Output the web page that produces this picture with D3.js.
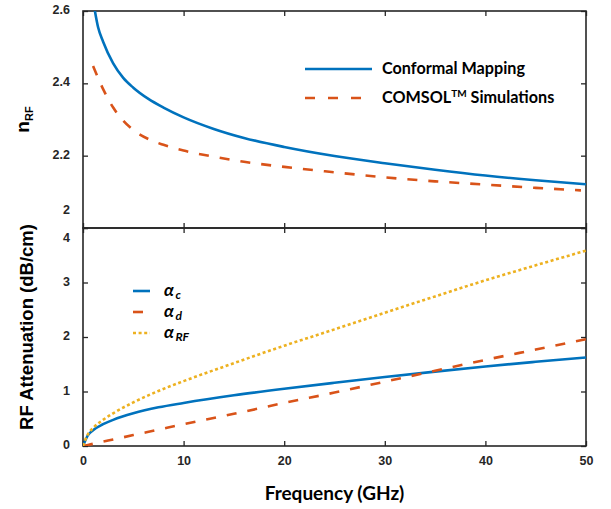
<!DOCTYPE html>
<html>
<head>
<meta charset="utf-8">
<script src="https://cdn.jsdelivr.net/npm/d3@7"></script>
<style>
  body { margin: 0; background: #fff; }
  svg { display: block; }
</style>
</head>
<body>
<svg id="chart"></svg>
<script>
// values
const nFreq = [1, 1.5, 2, 3, 4, 5, 6.5, 8, 10, 13, 16, 20, 25, 30, 35, 40, 45, 50];
const nConformal = [2.63, 2.555, 2.515, 2.455, 2.415, 2.388, 2.357, 2.333, 2.306, 2.274, 2.249, 2.224, 2.199, 2.179, 2.161, 2.145, 2.132, 2.121];
const comsolFreq = [1, 2, 3, 4, 5, 6.5, 8, 10, 13, 16, 20, 25, 30, 35, 40, 45, 49.5];
const nComsol = [2.448, 2.384, 2.333, 2.297, 2.271, 2.246, 2.23, 2.214, 2.197, 2.183, 2.169, 2.154, 2.14, 2.129, 2.12, 2.111, 2.104];

const aFreq = [0, 0.5, 1, 2, 3, 5, 7.5, 10, 15, 20, 25, 30, 35, 40, 45, 50];
const alphaC = [0, 0.2, 0.29, 0.4, 0.48, 0.6, 0.71, 0.79, 0.93, 1.05, 1.16, 1.265, 1.365, 1.46, 1.545, 1.625];
const alphaD = [0, 0.02, 0.04, 0.08, 0.12, 0.2, 0.3, 0.4, 0.59, 0.79, 0.98, 1.18, 1.38, 1.58, 1.77, 1.96];
const alphaRF = [0, 0.22, 0.33, 0.48, 0.6, 0.8, 1.01, 1.19, 1.52, 1.84, 2.14, 2.445, 2.745, 3.04, 3.315, 3.585];

const xTicks = [0, 10, 20, 30, 40, 50];
const nTicks = [2, 2.2, 2.4, 2.6];
const aTicks = [0, 1, 2, 3, 4];

const width = 611, height = 509;
const left = 83, right = 586;
const top1 = 11, bot1 = 228, top2 = 228, bot2 = 446;
const ink = '#262626';
const blue = '#0072BD', orange = '#D95319', yellow = '#EDB120';

const svg = d3.select('#chart').attr('width', width).attr('height', height);

const x = d3.scaleLinear().domain([0, 50]).range([left, right]);
const yN = d3.scaleLinear().domain([2, 2.6]).range([bot1, top1]);
const yA = d3.scaleLinear().domain([0, 4]).range([bot2, top2]);

// clip paths
const defs = svg.append('defs');
defs.append('clipPath').attr('id', 'clip1').append('rect')
  .attr('x', left).attr('y', top1).attr('width', right - left).attr('height', bot1 - top1);
defs.append('clipPath').attr('id', 'clip2').append('rect')
  .attr('x', left).attr('y', top2).attr('width', right - left).attr('height', bot2 - top2);

const tickFont = g => g.selectAll('text')
  .attr('font-family', '"Liberation Sans", Arial, sans-serif')
  .attr('font-weight', 'bold').attr('font-size', 12.5).attr('fill', ink);

const styleAxis = g => {
  g.select('.domain').remove();
  g.selectAll('line').attr('stroke', ink).attr('stroke-width', 1.3);
};

// top panel axes
svg.append('g').attr('transform', `translate(${left},0)`)
  .call(d3.axisLeft(yN).tickValues(nTicks).tickFormat(d3.format('~g')).tickSizeInner(-5).tickSizeOuter(0).tickPadding(13))
  .call(styleAxis).call(tickFont)
  .selectAll('.tick text').attr('dy', d => d === 2 ? '-1.2em' : '0.2em');
svg.append('g').attr('transform', `translate(${right},0)`)
  .call(d3.axisRight(yN).tickValues(nTicks).tickFormat('').tickSizeInner(-5).tickSizeOuter(0))
  .call(styleAxis);
svg.append('g').attr('transform', `translate(0,${top1})`)
  .call(d3.axisTop(x).tickValues(xTicks).tickFormat('').tickSizeInner(-5).tickSizeOuter(0))
  .call(styleAxis);
svg.append('g').attr('transform', `translate(0,${bot1})`)
  .call(d3.axisBottom(x).tickValues(xTicks).tickFormat('').tickSizeInner(-5).tickSizeOuter(0))
  .call(styleAxis);

// bottom panel axes
svg.append('g').attr('transform', `translate(${left},0)`)
  .call(d3.axisLeft(yA).tickValues(aTicks).tickFormat(d3.format('d')).tickSizeInner(-5).tickSizeOuter(0).tickPadding(13))
  .call(styleAxis).call(tickFont)
  .selectAll('.tick text').attr('dy', d => d === 4 ? '1.1em' : '0.2em');
svg.append('g').attr('transform', `translate(${right},0)`)
  .call(d3.axisRight(yA).tickValues(aTicks).tickFormat('').tickSizeInner(-5).tickSizeOuter(0))
  .call(styleAxis);
svg.append('g').attr('transform', `translate(0,${top2})`)
  .call(d3.axisTop(x).tickValues(xTicks).tickFormat('').tickSizeInner(-5).tickSizeOuter(0))
  .call(styleAxis);
svg.append('g').attr('transform', `translate(0,${bot2})`)
  .call(d3.axisBottom(x).tickValues(xTicks).tickSizeInner(-5).tickSizeOuter(0).tickPadding(10))
  .call(styleAxis).call(tickFont);

// frames
[[top1, bot1], [top2, bot2]].forEach(([t, b]) => {
  svg.append('rect').attr('x', left).attr('y', t).attr('width', right - left).attr('height', b - t)
    .attr('fill', 'none').attr('stroke', ink).attr('stroke-width', 1.6);
});

// curves
const drawLine = (xs, ys, yScale, clip, color, dash) => {
  const pts = xs.map((f, i) => [f, ys[i]]);
  svg.append('path')
    .datum(pts)
    .attr('clip-path', `url(#${clip})`)
    .attr('fill', 'none')
    .attr('stroke', color)
    .attr('stroke-width', 2.6)
    .attr('stroke-dasharray', dash)
    .attr('d', d3.line().x(d => x(d[0])).y(d => yScale(d[1])).curve(d3.curveMonotoneX));
};

drawLine(nFreq, nConformal, yN, 'clip1', blue, null);
drawLine(comsolFreq, nComsol, yN, 'clip1', orange, '10,11');

drawLine(aFreq, alphaC, yA, 'clip2', blue, null);
drawLine(aFreq, alphaD, yA, 'clip2', orange, '10,11');
drawLine(aFreq, alphaRF, yA, 'clip2', yellow, '3,2.6');

// top legend
const legFont = '"Lato", "Open Sans", sans-serif';
const legTop = [
  { y: 69, color: blue, dash: null },
  { y: 98, color: orange, dash: '10,13' }
];
legTop.forEach(d => {
  svg.append('line').attr('x1', 305).attr('x2', 372).attr('y1', d.y).attr('y2', d.y)
    .attr('stroke', d.color).attr('stroke-width', 2.6).attr('stroke-dasharray', d.dash);
});
svg.append('text').attr('x', 382).attr('y', 74)
  .attr('font-family', legFont).attr('font-weight', 'bold').attr('font-size', 16.2).attr('fill', '#000')
  .text('Conformal Mapping');
const t2 = svg.append('text').attr('x', 382).attr('y', 103)
  .attr('font-family', legFont).attr('font-weight', 'bold').attr('font-size', 16.2).attr('fill', '#000');
t2.append('tspan').text('COMSOL');
t2.append('tspan').attr('font-size', 10).attr('dy', -6).text('TM');
t2.append('tspan').attr('dy', 6).text(' Simulations');

// bottom legend
const legBot = [
  { y: 291, color: blue, dash: null, sub: 'c' },
  { y: 312, color: orange, dash: '10,11', sub: 'd' },
  { y: 333, color: yellow, dash: '3,2.6', sub: 'RF' }
];
legBot.forEach(d => {
  svg.append('line').attr('x1', 133).attr('x2', 150).attr('y1', d.y).attr('y2', d.y)
    .attr('stroke', d.color).attr('stroke-width', 2.6).attr('stroke-dasharray', d.dash);
  const a = svg.append('text').attr('x', 164).attr('y', d.y + 5)
    .attr('font-family', legFont).attr('font-weight', 'bold').attr('font-style', 'italic')
    .attr('font-size', 17.5).attr('fill', '#000')
    .text('α');
  const w = a.node().getComputedTextLength();
  svg.append('text').attr('x', 164 + w + 1.5).attr('y', d.y + 8)
    .attr('font-family', legFont).attr('font-weight', 'bold').attr('font-style', 'italic')
    .attr('font-size', 12).attr('fill', '#000')
    .text(d.sub);
});

// axis titles
svg.append('text').attr('x', (left + right) / 2).attr('y', 500).attr('text-anchor', 'middle')
  .attr('font-family', legFont).attr('font-weight', 'bold').attr('font-size', 19).attr('fill', '#000')
  .text('Frequency (GHz)');

const nLab = svg.append('text').attr('transform', `translate(29,${(top1 + bot1) / 2}) rotate(-90)`)
  .attr('text-anchor', 'middle')
  .attr('font-family', '"Liberation Sans", Arial, sans-serif').attr('font-weight', 'bold')
  .attr('font-size', 19).attr('fill', '#000');
nLab.append('tspan').text('n');
nLab.append('tspan').attr('font-size', 11).attr('dy', 4).text('RF');

svg.append('text').attr('transform', `translate(33,327) rotate(-90)`)
  .attr('text-anchor', 'middle')
  .attr('font-family', '"Liberation Sans", Arial, sans-serif').attr('font-weight', 'bold')
  .attr('font-size', 18.5).attr('fill', '#000')
  .text('RF Attenuation (dB/cm)');
</script>
</body>
</html>
